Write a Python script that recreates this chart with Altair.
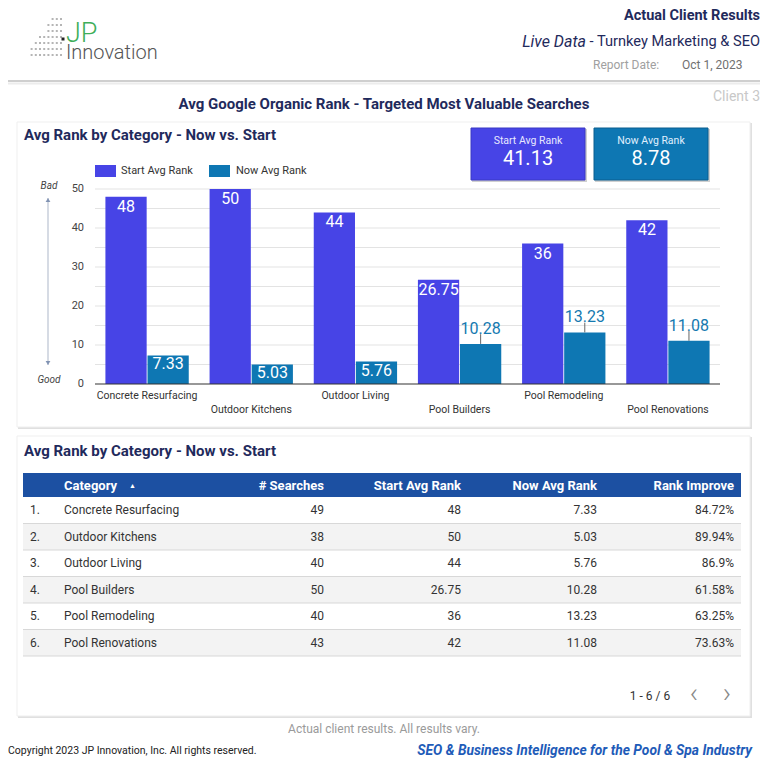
import altair as alt
import pandas as pd

# ---------------- data ----------------
categories = ["Concrete Resurfacing", "Outdoor Kitchens", "Outdoor Living",
              "Pool Builders", "Pool Remodeling", "Pool Renovations"]
start_rank = [48, 50, 44, 26.75, 36, 42]
now_rank = [7.33, 5.03, 5.76, 10.28, 13.23, 11.08]
searches = [49, 38, 40, 50, 40, 43]
rank_improve = [84.72, 89.94, 86.9, 61.58, 63.25, 73.63]
series_names = ["Start Avg Rank", "Now Avg Rank"]
kpi_values = ["41.13", "8.78"]
y_ticks = [0, 10, 20, 30, 40, 50]
grid_ticks = [5, 10, 15, 20, 25, 30, 35, 40, 45, 50]
logo_row_counts = [3, 4, 4, 6, 7, 8, 8]

START_C = "#4744e6"
NOW_C = "#0e77b3"
NAVY = "#1f2a5c"
FONT = "Roboto"

df = pd.DataFrame({
    "category": categories,
    "start": start_rank,
    "now": now_rank,
    "searches": searches,
    "improve": rank_improve,
    "row": list(range(1, len(categories) + 1)),
})
long = pd.concat([
    pd.DataFrame({"category": categories, "series": series_names[0], "value": start_rank}),
    pd.DataFrame({"category": categories, "series": series_names[1], "value": now_rank}),
])
one = pd.DataFrame({"a": [0]})


def txt(s, x, y, size=12, color="#333", weight="normal", align="left", style="normal",
        baseline="middle", font=FONT):
    return alt.Chart(one).mark_text(
        text=s, align=align, baseline=baseline, fontSize=size, fontWeight=weight,
        fontStyle=style, font=font, color=color
    ).encode(x=alt.value(x), y=alt.value(y))


def box(x1, x2, y1, y2, fill, stroke=None, sw=1):
    kw = dict(fill=fill)
    if stroke:
        kw.update(stroke=stroke, strokeWidth=sw)
    return alt.Chart(one).mark_rect(**kw).encode(
        x=alt.value(x1), x2=alt.value(x2), y=alt.value(y1), y2=alt.value(y2))


def hline(x1, x2, y, color, w=1):
    return alt.Chart(one).mark_rule(color=color, strokeWidth=w).encode(
        x=alt.value(x1), x2=alt.value(x2), y=alt.value(y))


deco = []
# logo dots
dots = []
for r, cnt in enumerate(logo_row_counts):
    for c in range(cnt):
        dots.append({"px": 53 - 4.2 * c, "py": 11 + 6 * r})
dots_df = pd.DataFrame(dots)
deco.append(alt.Chart(dots_df).mark_square(size=4, color="#b5b5b5", opacity=1).encode(
    x=alt.X("px:Q", scale=None), y=alt.Y("py:Q", scale=None)))
deco.append(alt.Chart(one).mark_square(size=9, color="#222", opacity=1).encode(
    x=alt.value(55), y=alt.value(31)))
deco.append(txt("JP", 58, 34, size=27, color="#3fae5a", weight=300, baseline="alphabetic"))
deco.append(txt("Innovation", 58, 51, size=20, color="#555555", weight=300, baseline="alphabetic"))

# header right
deco.append(txt("Actual Client Results", 752, 8, size=14.5, color=NAVY, weight="bold", align="right"))
deco.append(txt("Live Data", 578, 34, size=16, color=NAVY, style="italic", align="right"))
deco.append(txt("- Turnkey Marketing & SEO", 752, 34, size=14.6, color=NAVY, align="right"))
deco.append(txt("Report Date:", 585, 57, size=12, color="#a0a0a0"))
deco.append(txt("Oct 1, 2023", 674, 57, size=12, color="#707070"))
deco.append(hline(0, 752, 73, "#cfcfcf", 2))
deco.append(hline(0, 752, 75.5, "#ececec", 2))
deco.append(txt("Client 3", 752, 89, size=14, color="#c8c8c8", align="right"))
deco.append(txt("Avg Google Organic Rank - Targeted Most Valuable Searches", 376, 96,
                size=15, color=NAVY, weight="bold", align="center"))

# card 1
deco.append(box(10, 744, 115, 421, "#e0e0e0"))
deco.append(box(9, 742, 114, 419, "#ffffff", "#efefef"))
deco.append(txt("Avg Rank by Category - Now vs. Start", 16, 127, size=15, color=NAVY, weight="bold"))
# KPI boxes
deco.append(box(464, 579, 121, 174, "#d0d0d0"))
deco.append(box(463, 577, 120, 172, START_C, "#3b39c4"))
deco.append(txt(series_names[0], 520, 133, size=10.5, color="#e8e8ff", align="center"))
deco.append(txt(kpi_values[0], 520, 151, size=20, color="white", align="center"))
deco.append(box(587, 702, 121, 174, "#d0d0d0"))
deco.append(box(586, 700, 120, 172, NOW_C, "#0b5f8f"))
deco.append(txt(series_names[1], 643, 133, size=10.5, color="#e0f0ff", align="center"))
deco.append(txt(kpi_values[1], 643, 151, size=20, color="white", align="center"))
# legend
deco.append(box(87, 108, 157, 169, START_C))
deco.append(txt(series_names[0], 113, 163, size=11, color="#333"))
deco.append(box(201, 222, 157, 169, NOW_C))
deco.append(txt(series_names[1], 228, 163, size=11, color="#333"))
# bad / good arrow
deco.append(txt("Bad", 41, 178, size=10, color="#444", style="italic", align="center"))
deco.append(txt("Good", 41, 372, size=10, color="#444", style="italic", align="center"))
deco.append(alt.Chart(one).mark_rule(color="#c9cfdb", strokeWidth=1.5).encode(
    x=alt.value(40), y=alt.value(190), y2=alt.value(357)))
deco.append(alt.Chart(one).mark_point(shape="triangle-up", filled=True, size=22, color="#8193b3", opacity=1).encode(
    x=alt.value(40), y=alt.value(192)))
deco.append(alt.Chart(one).mark_point(shape="triangle-down", filled=True, size=22, color="#8193b3", opacity=1).encode(
    x=alt.value(40), y=alt.value(355)))

# card 2
deco.append(box(10, 744, 429, 710, "#e0e0e0"))
deco.append(box(9, 742, 428, 708, "#ffffff", "#efefef"))
deco.append(txt("Avg Rank by Category - Now vs. Start", 16, 443, size=15, color=NAVY, weight="bold"))
deco.append(box(15, 733, 465, 489, "#1c50a2"))
HY = 477.5
deco.append(txt("Category", 56, HY, size=13, color="white", weight="bold"))
deco.append(txt("▲", 121, HY, size=7, color="white"))
deco.append(txt("# Searches", 316, HY, size=13, color="white", weight="bold", align="right"))
deco.append(txt("Start Avg Rank", 453, HY, size=13, color="white", weight="bold", align="right"))
deco.append(txt("Now Avg Rank", 589, HY, size=13, color="white", weight="bold", align="right"))
deco.append(txt("Rank Improve", 726, HY, size=13, color="white", weight="bold", align="right"))
deco.append(txt("1 - 6 / 6", 642, 688, size=12, color="#333", align="center"))
deco.append(txt("‹", 686, 686, size=28, color="#888", align="center", weight=300))
deco.append(txt("›", 719, 686, size=28, color="#888", align="center", weight=300))

# footer
deco.append(txt("Actual client results.  All results vary.", 376, 721, size=12, color="#9a9a9a", align="center"))
deco.append(txt("Copyright 2023 JP Innovation, Inc.  All rights reserved.", 0, 743, size=10.5, color="#222"))
deco.append(txt("SEO & Business Intelligence for the Pool & Spa Industry", 744, 743, size=13.8,
                color="#1e5bb8", weight="bold", style="italic", align="right"))

# ---------------- bar chart (scales) ----------------
xs = alt.Scale(domain=categories, range=[87, 712], paddingInner=0.2, paddingOuter=0.1)
ys = alt.Scale(domain=[0, 50], range=[376, 181], nice=False, zero=True)
xo = alt.Scale(domain=series_names, paddingInner=0.02)

X = alt.X("category:N", scale=xs, axis=None)
XO = alt.XOffset("series:N", scale=xo)
Y = alt.Y("value:Q", scale=ys, axis=None)

grid = alt.Chart(pd.DataFrame({"t": grid_ticks})).mark_rule(color="#e3e3e3").encode(
    y=alt.Y("t:Q", scale=ys, axis=None), x=alt.value(87), x2=alt.value(712))
ylab = alt.Chart(pd.DataFrame({"t": y_ticks})).mark_text(
    align="right", baseline="middle", fontSize=11, font=FONT, color="#444").encode(
    y=alt.Y("t:Q", scale=ys, axis=None), x=alt.value(76), text="t:Q")
bars = alt.Chart(long).mark_bar().encode(
    x=X, xOffset=XO, y=Y,
    color=alt.Color("series:N", scale=alt.Scale(domain=series_names, range=[START_C, NOW_C]), legend=None),
)
baseline = alt.Chart(pd.DataFrame({"t": [0]})).mark_rule(color="#333", strokeWidth=1.2).encode(
    y=alt.Y("t:Q", scale=ys, axis=None), x=alt.value(87), x2=alt.value(712))
start_lab = alt.Chart(long).transform_filter(alt.datum.series == series_names[0]).transform_calculate(
    lab="format(datum.value, '.2~f')").mark_text(
    baseline="top", dy=2, fontSize=16, font=FONT, color="white").encode(
    x=X, xOffset=XO, y=Y, text="lab:N")
now_in = alt.Chart(long).transform_filter(
    (alt.datum.series == series_names[1]) & (alt.datum.value < 10)).transform_calculate(
    lab="format(datum.value, '.2f')").mark_text(
    baseline="top", dy=1, fontSize=16, font=FONT, color="white").encode(
    x=X, xOffset=XO, y=Y, text="lab:N")
now_out_f = (alt.datum.series == series_names[1]) & (alt.datum.value >= 10)
now_out = alt.Chart(long).transform_filter(now_out_f).transform_calculate(
    lab="format(datum.value, '.2f')").mark_text(
    baseline="bottom", dy=-7, fontSize=16, font=FONT, color="#1479b0").encode(
    x=X, xOffset=XO, y=Y, text="lab:N")
leader = alt.Chart(long).transform_filter(now_out_f).transform_calculate(
    top="datum.value + 2.5").mark_rule(color="#666", strokeWidth=1).encode(
    x=X, xOffset=XO, y=Y, y2="top:Q")
xlab_a = alt.Chart(df).transform_filter("datum.row % 2 == 1").mark_text(
    fontSize=10.5, font=FONT, color="#333", baseline="middle").encode(
    x=alt.X("category:N", scale=xs, axis=None), y=alt.value(388), text="category:N")
xlab_b = alt.Chart(df).transform_filter("datum.row % 2 == 0").mark_text(
    fontSize=10.5, font=FONT, color="#333", baseline="middle").encode(
    x=alt.X("category:N", scale=xs, axis=None), y=alt.value(402), text="category:N")

bar_chart = alt.layer(grid, ylab, bars, baseline, start_lab, now_in, leader, now_out, xlab_a, xlab_b)

# ---------------- table (scales) ----------------
rs = alt.Scale(domain=list(range(1, len(categories) + 1)), range=[489, 648], paddingInner=0, paddingOuter=0)
tbase = alt.Chart(df)
row_bg = tbase.mark_rect().encode(
    y=alt.Y("row:O", scale=rs, axis=None), x=alt.value(15), x2=alt.value(733),
    color=alt.condition("datum.row % 2 == 0", alt.value("#f3f3f3"), alt.value("#ffffff")))
row_sep = tbase.mark_rule(color="#d8d8d8", strokeWidth=1.2).encode(
    y=alt.Y("row:O", scale=rs, axis=None, bandPosition=1), x=alt.value(15), x2=alt.value(733))


def tcol(x, align, fmt_expr):
    return tbase.transform_calculate(lab=fmt_expr).mark_text(
        align=align, baseline="middle", fontSize=12, font=FONT, color="#333").encode(
        y=alt.Y("row:O", scale=rs, axis=None), x=alt.value(x), text="lab:N")


tcols = [
    tcol(22, "left", "datum.row + '.'"),
    tcol(56, "left", "datum.category"),
    tcol(316, "right", "format(datum.searches, 'd')"),
    tcol(453, "right", "format(datum.start, '.2~f')"),
    tcol(589, "right", "format(datum.now, '.2f')"),
    tcol(726, "right", "format(datum.improve, '.2~f') + '%'"),
]
table = alt.layer(row_bg, row_sep, *tcols)

chart = alt.layer(*deco, bar_chart, table).resolve_scale(
    x="independent", y="independent"
).properties(
    width=752, height=752, autosize="none", padding=0, background="white"
).configure_view(stroke=None)

chart.save("out.html", embed_options={"renderer": "svg", "actions": False})
